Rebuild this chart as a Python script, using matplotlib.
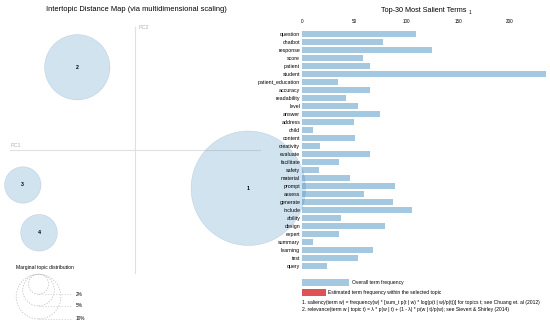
import matplotlib.pyplot as plt
from matplotlib.patches import Circle, Rectangle
import numpy as np

plt.rcParams['font.family'] = ['Liberation Sans', 'DejaVu Sans']

# topic map (MDS coordinates) and marginal topic distribution (%)
topicIds = ['1', '2', '3', '4']
topicPC1 = [0.452, -0.232, -0.450, -0.385]
topicPC2 = [-0.153, 0.331, -0.140, -0.331]
topicShare = [65.4, 21.3, 6.6, 6.7]
legendShares = [2, 5, 10]

# top-30 salient terms, overall frequency
terms = ['question', 'chatbot', 'response', 'score', 'patient', 'student',
         'patient_education', 'accuracy', 'readability', 'level', 'answer',
         'address', 'child', 'content', 'creativity', 'evaluate', 'facilitate',
         'safety', 'material', 'prompt', 'assess', 'generate', 'include',
         'ability', 'design', 'expert', 'summary', 'learning', 'test', 'query']
termFreq = [110, 78, 125, 58, 65, 235, 34, 65, 42, 54, 75, 50, 10, 51, 17,
            65, 35, 16, 46, 89, 59, 87, 106, 37, 80, 35, 10, 68, 54, 24]
freqTicks = [0, 50, 100, 150, 200]

W, H = 550, 325
blue = '#1f77b4'
red = '#d62728'
sizeScale = 0.02828  # radius per sqrt(percent)


def fx(px):
    return px / W


def fy(py):
    return 1 - py / H


fig = plt.figure(figsize=(W / 100, H / 100), dpi=100)
fig.patch.set_facecolor('white')

# left panel: intertopic distance map, 250 px per unit, origin at (135.3, 150)
mapAx = fig.add_axes([0, 0, fx(275), 1])
mapAx.set_xlim(-135.3 / 250, (275 - 135.3) / 250)
mapAx.set_ylim((150 - 325) / 250, 150 / 250)
mapAx.axis('off')

mapAx.plot([-0.5, 0.5], [0, 0], color='#e0e0e0', lw=0.8, zorder=1)
mapAx.plot([0, 0], [-0.492, 0.492], color='#e0e0e0', lw=0.8, zorder=1)
mapAx.text(-0.501, 0.018, 'PC1', fontsize=3.9, color='#b0b0b0', va='center')
mapAx.text(0.011, 0.488, 'PC2', fontsize=3.9, color='#b0b0b0', va='center')

for tid, x, y, s in zip(topicIds, topicPC1, topicPC2, topicShare):
    r = sizeScale * np.sqrt(s)
    mapAx.add_patch(Circle((x, y), r, facecolor=(0.122, 0.467, 0.706, 0.2),
                           edgecolor=(0.6, 0.7, 0.8, 0.5), lw=0.4,
                           clip_on=False, zorder=2))
    mapAx.text(x, y, tid, fontsize=3.8, fontweight='bold', ha='center',
               va='center', zorder=3)

# marginal topic distribution legend
legTop = -0.497
legX = -0.387
mapAx.text(-0.477, -0.471, 'Marginal topic distribution', fontsize=3.6,
           va='center')
for s in legendShares:
    r = sizeScale * np.sqrt(s)
    mapAx.add_patch(Circle((legX, legTop - r), r, fill=False,
                           edgecolor='#bbbbbb', lw=0.5, ls=(0, (2, 2)),
                           clip_on=False))
    mapAx.plot([legX, -0.253], [legTop - 2 * r, legTop - 2 * r],
               color='#cccccc', lw=0.5, ls=(0, (2, 2)), clip_on=False)
    mapAx.text(-0.237, legTop - 2 * r, f'{s}%', fontsize=3.4, va='center',
               clip_on=False)

fig.text(fx(136), fy(9.5), 'Intertopic Distance Map (via multidimensional scaling)',
         fontsize=5.4, ha='center', va='center')

# right panel: bar chart
barAx = fig.add_axes([fx(302.3), fy(269.7), 245 / W, 239.7 / H])
barAx.patch.set_alpha(0)
pos = np.arange(len(terms))
barAx.barh(pos, termFreq, height=0.75, color=blue, alpha=0.4, lw=0)
barAx.set_xlim(0, 236)
barAx.set_ylim(len(terms) - 0.5, -0.5)
barAx.set_yticks(pos)
barAx.set_yticklabels(terms, fontsize=3.8)
barAx.set_xticks(freqTicks)
barAx.xaxis.tick_top()
barAx.tick_params(axis='x', length=0, pad=4, labelsize=3.3)
barAx.tick_params(axis='y', length=0, pad=1.5)
for sp in barAx.spines.values():
    sp.set_visible(False)

fig.text(fx(381), fy(10), 'Top-30 Most Salient Terms', fontsize=5.2,
         ha='left', va='center')
fig.text(fx(468.5), fy(12.5), '1', fontsize=3.4, ha='left', va='center')

# bar legend and footnotes
fig.patches.append(Rectangle((fx(302.3), fy(286)), 46.7 / W, 7 / H,
                             transform=fig.transFigure, color=blue, alpha=0.4, lw=0))
fig.patches.append(Rectangle((fx(302.3), fy(295.7)), 23.4 / W, 7 / H,
                             transform=fig.transFigure, color=red, alpha=0.8, lw=0))
fig.text(fx(351.7), fy(282.5), 'Overall term frequency', fontsize=3.6, va='center')
fig.text(fx(328.3), fy(292.2), 'Estimated term frequency within the selected topic',
         fontsize=3.6, va='center')
fig.text(fx(302), fy(302.3),
         '1. saliency(term w) = frequency(w) * [sum_t p(t | w) * log(p(t | w)/p(t))] '
         'for topics t; see Chuang et. al (2012)', fontsize=3.65, va='center')
fig.text(fx(302), fy(309.3),
         '2. relevance(term w | topic t) = \u03bb * p(w | t) + (1 - \u03bb) * p(w | t)/p(w); '
         'see Sievert & Shirley (2014)', fontsize=3.65, va='center')

fig.savefig('out.png', dpi=100, facecolor='white')
